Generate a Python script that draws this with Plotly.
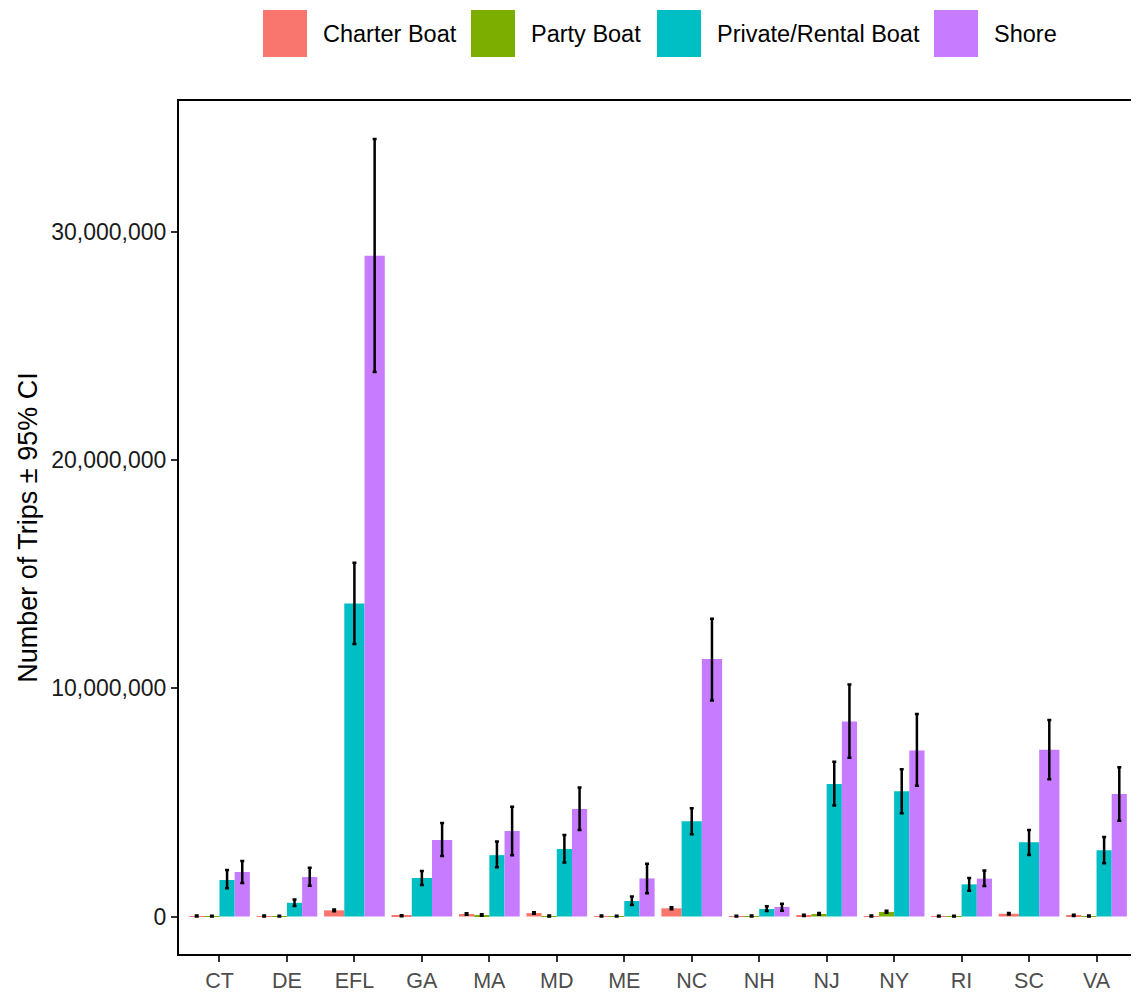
import plotly.graph_objects as go

states = ["CT", "DE", "EFL", "GA", "MA", "MD", "ME", "NC", "NH", "NJ", "NY", "RI", "SC", "VA"]

# values in millions of trips
charter = [0.02, 0.02, 0.27, 0.04, 0.11, 0.15, 0.02, 0.36, 0.01, 0.05, 0.02, 0.01, 0.12, 0.05]
charter_lo = [0.0, 0.0, 0.23, 0.01, 0.08, 0.12, 0.0, 0.32, 0.0, 0.02, 0.0, 0.0, 0.09, 0.02]
charter_hi = [0.04, 0.04, 0.31, 0.06, 0.14, 0.19, 0.04, 0.41, 0.03, 0.08, 0.04, 0.03, 0.15, 0.08]

party = [0.01, 0.01, None, None, 0.05, 0.02, 0.01, None, 0.02, 0.11, 0.20, 0.01, None, 0.02]
party_lo = [0.0, 0.0, None, None, 0.03, 0.0, 0.0, None, 0.0, 0.08, 0.17, 0.0, None, 0.0]
party_hi = [0.03, 0.03, None, None, 0.10, 0.04, 0.03, None, 0.04, 0.15, 0.25, 0.03, None, 0.04]

private = [1.60, 0.60, 13.72, 1.69, 2.69, 2.96, 0.68, 4.17, 0.33, 5.81, 5.49, 1.41, 3.25, 2.90]
private_lo = [1.24, 0.46, 11.94, 1.38, 2.16, 2.37, 0.50, 3.60, 0.24, 4.86, 4.52, 1.13, 2.70, 2.33]
private_hi = [2.04, 0.75, 15.50, 1.99, 3.29, 3.57, 0.88, 4.75, 0.45, 6.78, 6.45, 1.69, 3.79, 3.48]

shore = [1.95, 1.73, 28.96, 3.35, 3.75, 4.71, 1.67, 11.28, 0.42, 8.55, 7.28, 1.66, 7.31, 5.37]
shore_lo = [1.47, 1.35, 23.86, 2.65, 2.69, 3.79, 1.02, 9.47, 0.25, 6.96, 5.73, 1.34, 6.01, 4.20]
shore_hi = [2.43, 2.14, 34.07, 4.10, 4.81, 5.65, 2.31, 13.05, 0.56, 10.17, 8.87, 2.02, 8.61, 6.54]

series_names = ["Charter Boat", "Party Boat", "Private/Rental Boat", "Shore"]
colors = ["#F8766D", "#7CAE00", "#00BFC4", "#C77CFF"]
series = [
    (charter, charter_lo, charter_hi),
    (party, party_lo, party_hi),
    (private, private_lo, private_hi),
    (shore, shore_lo, shore_hi),
]

M = 1e6
GROUP_W = 0.9

# page body has an 8px margin, so the figure is drawn 8px smaller and offset
OFF = 8
W, H = 1139 - OFF, 993 - OFF
ML, MR, MT, MB = 179 - OFF, 2, 101 - OFF, 39
PW, PH = W - ML - MR, H - MT - MB

def px_x(x):
    # x in page pixels -> paper coords
    return (x - OFF - ML) / PW

def px_y(y):
    return (H - MB - (y - OFF)) / PH

# dodge positions like ggplot: present series share the group width
present = []
for i in range(len(states)):
    present.append([k for k in range(len(series)) if series[k][0][i] is not None])

fig = go.Figure()
for k, (vals, lo, hi) in enumerate(series):
    xs, ys, ws, eplus, eminus = [], [], [], [], []
    for i, v in enumerate(vals):
        if v is None:
            continue
        n = len(present[i])
        j = present[i].index(k)
        w = GROUP_W / n
        xs.append(i - GROUP_W / 2 + (j + 0.5) * w)
        ws.append(w)
        ys.append(v * M)
        eplus.append((hi[i] - v) * M)
        eminus.append((v - lo[i]) * M)
    fig.add_trace(go.Bar(
        x=xs, y=ys, width=ws, name=series_names[k], showlegend=False,
        marker=dict(color=colors[k], line=dict(width=0)),
        error_y=dict(type="data", symmetric=False, array=eplus, arrayminus=eminus,
                     color="black", thickness=2.5, width=2),
    ))

# legend drawn as swatches + labels above the panel (ggplot-style large keys)
legend_box_left = [263, 471, 657, 934]
box_w, box_top, box_bot = 44, 10, 57
shapes = []
annotations = []
for k, name in enumerate(series_names):
    x0 = legend_box_left[k]
    shapes.append(dict(type="rect", xref="paper", yref="paper",
                       x0=px_x(x0), x1=px_x(x0 + box_w),
                       y0=px_y(box_bot), y1=px_y(box_top),
                       fillcolor=colors[k], line=dict(width=0), layer="above"))
    annotations.append(dict(text=name, xref="paper", yref="paper",
                            x=px_x(x0 + box_w + 14), y=px_y((box_top + box_bot) / 2),
                            xanchor="left", yanchor="middle", showarrow=False,
                            font=dict(size=23.5, color="black")))

font_family = "Liberation Sans, Arial, sans-serif"
fig.update_layout(
    width=W, height=H,
    barmode="overlay",
    plot_bgcolor="white", paper_bgcolor="white",
    margin=dict(l=ML, r=MR, t=MT, b=MB, autoexpand=False),
    font=dict(family=font_family, size=16, color="black"),
    showlegend=False,
    shapes=shapes,
    annotations=annotations,
    xaxis=dict(
        range=[-0.6, 13.6], tickmode="array", tickvals=list(range(len(states))),
        ticktext=states, showgrid=False, zeroline=False, automargin=False,
        showline=True, linecolor="black", linewidth=2, mirror=True,
        ticks="outside", ticklen=6, tickwidth=2, tickcolor="#333333",
        tickfont=dict(size=21.5, color="#4d4d4d"),
    ),
    yaxis=dict(
        range=[-1.643e6, 35.74e6], tickmode="array",
        tickvals=[0, 10e6, 20e6, 30e6], tickformat=",",
        showgrid=False, zeroline=False, automargin=False,
        showline=True, linecolor="black", linewidth=2, mirror=True,
        ticks="outside", ticklen=6, tickwidth=2, tickcolor="#333333",
        tickfont=dict(size=23, color="#1a1a1a"),
        title=dict(text="Number of Trips ± 95% CI", font=dict(size=27, color="black"), standoff=6),
    ),
)

fig.write_html("out.html")
